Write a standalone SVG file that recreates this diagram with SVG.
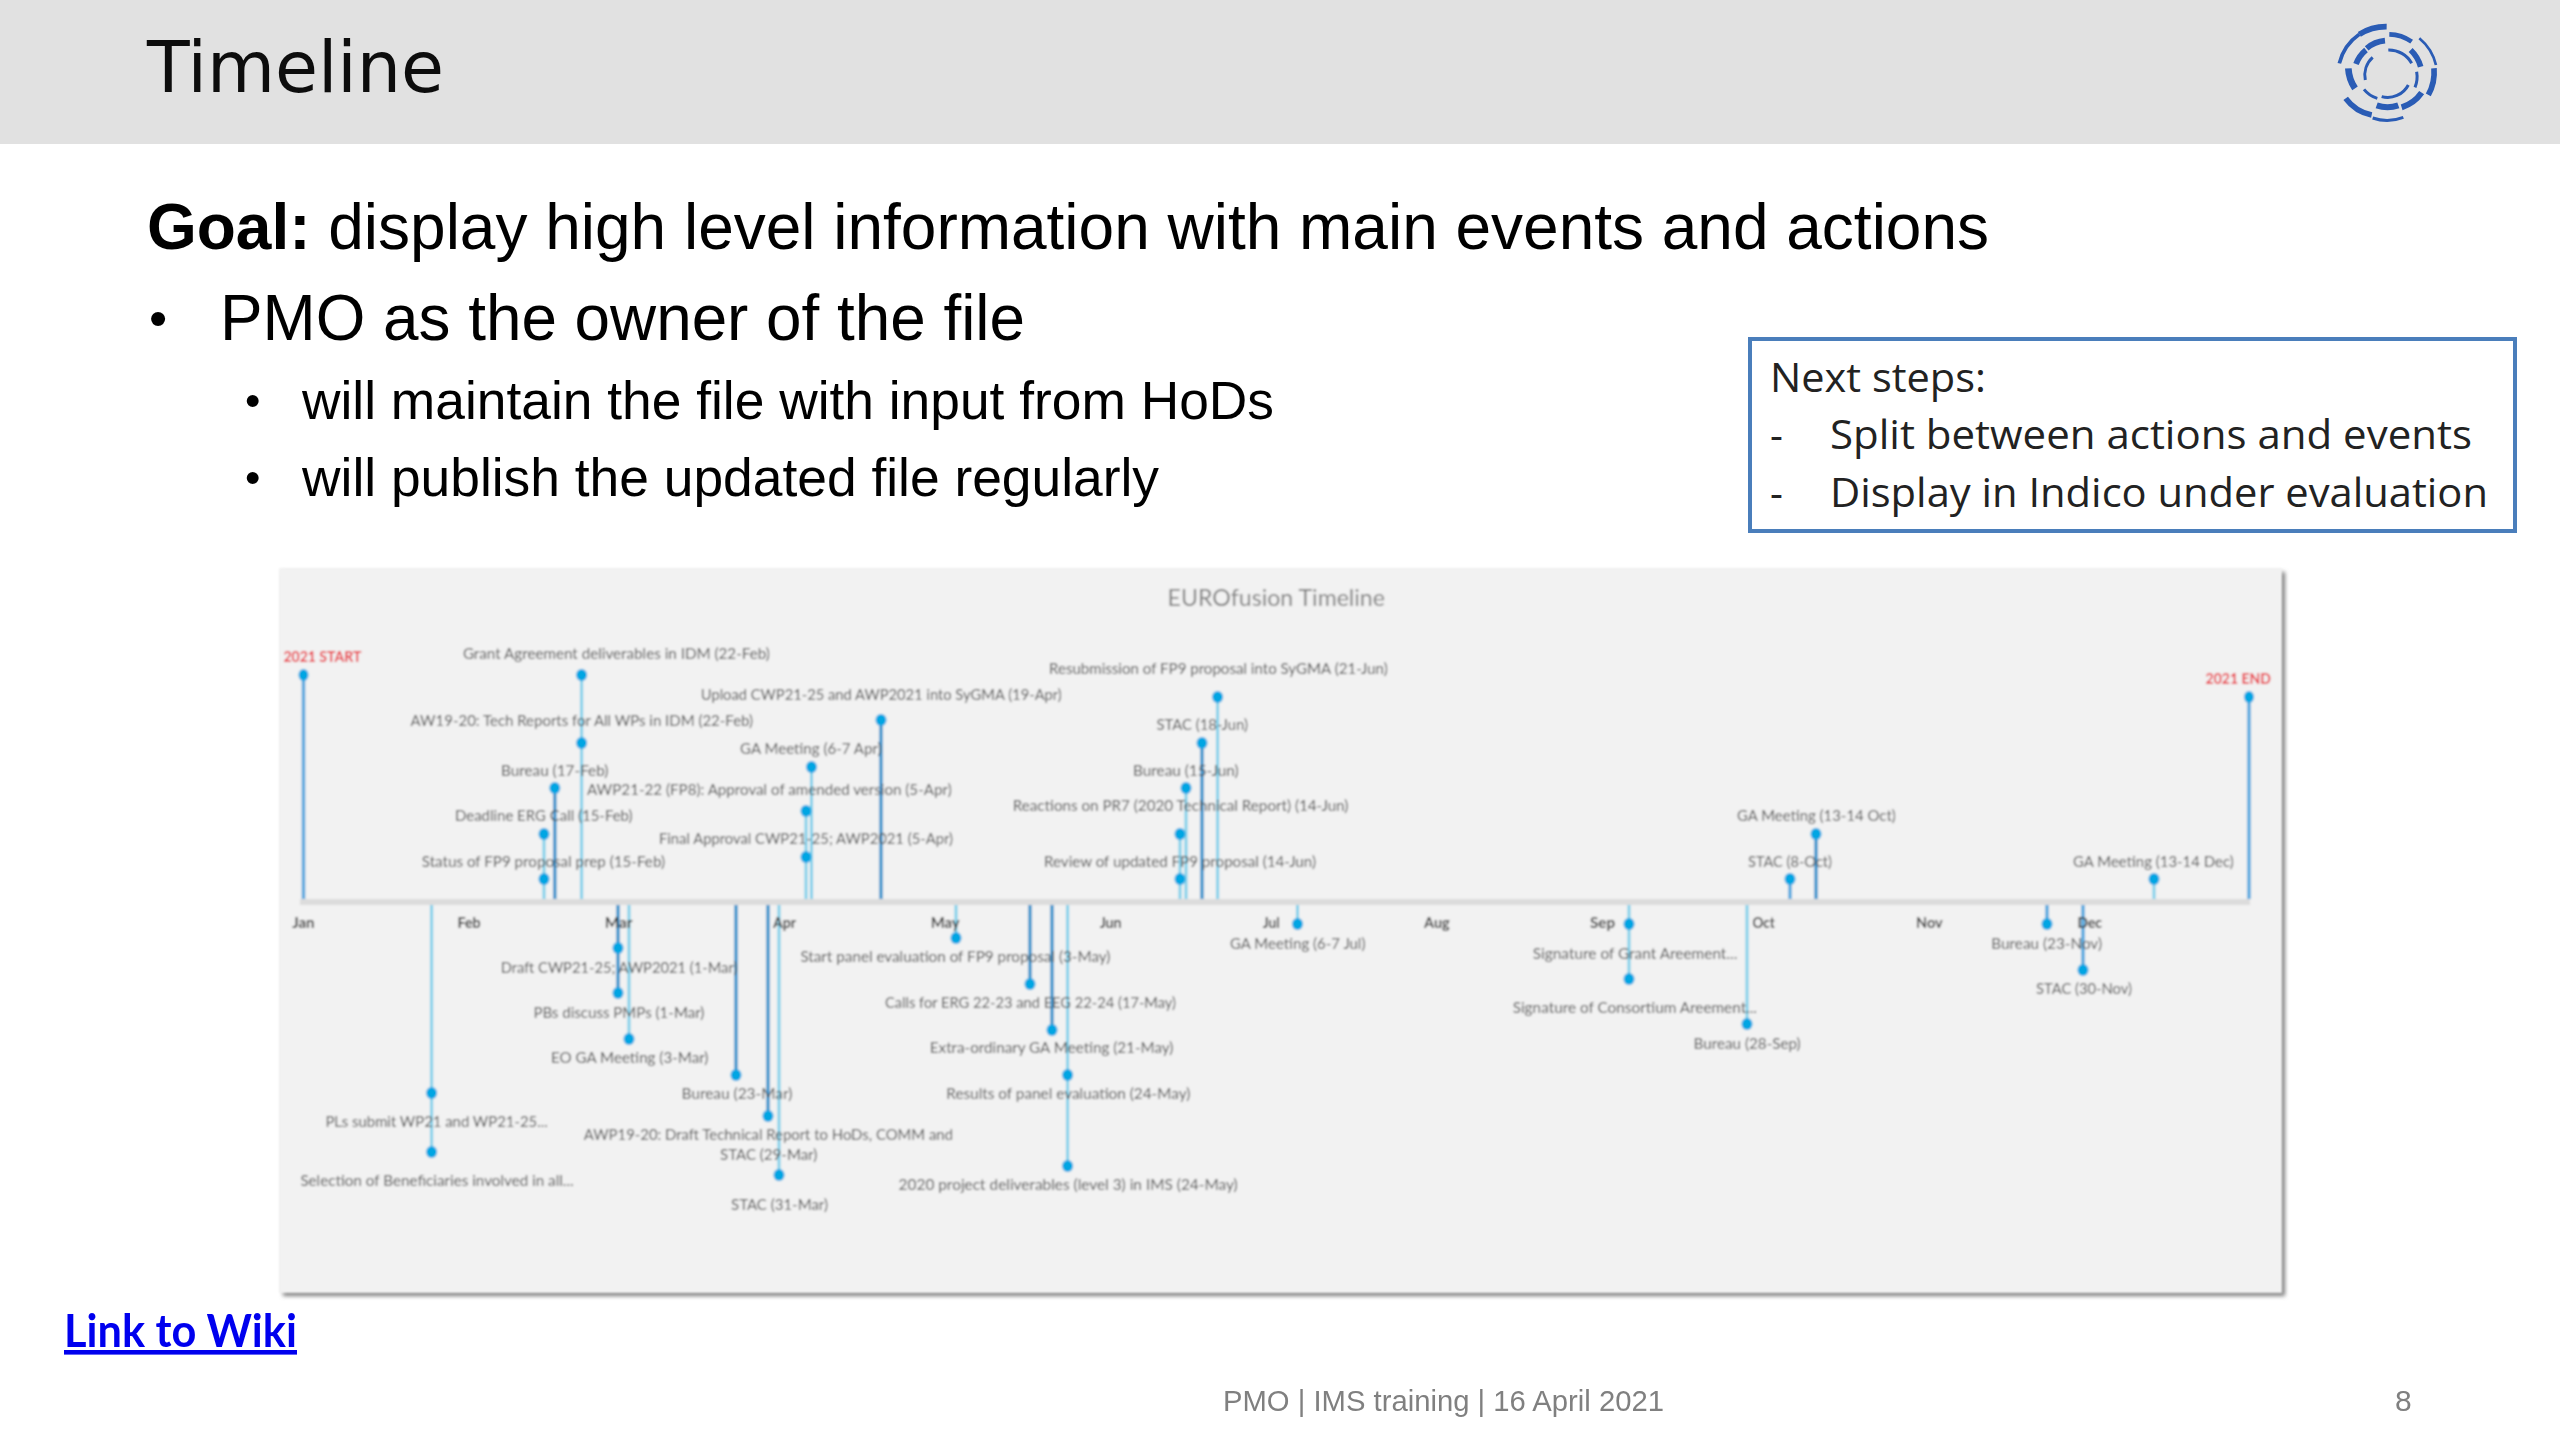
<svg xmlns="http://www.w3.org/2000/svg" width="2560" height="1440" viewBox="0 0 2560 1440">
<style>
.h{font-family:"DejaVu Sans",sans-serif;font-size:72px;fill:#111}
.b{font-family:"Liberation Sans",Arial,sans-serif;fill:#000}
.f{font-family:"Liberation Sans",Arial,sans-serif;font-size:30px;fill:#808080}
.n{font-family:"Open Sans",sans-serif;font-size:40px;fill:#222}
.l{font-family:"Lato","Open Sans",sans-serif;font-size:14.5px;fill:#505050}
.m{font-family:"Lato","Open Sans",sans-serif;font-size:16px;font-weight:700;fill:#3a3a3a}
.r{font-family:"Lato","Open Sans",sans-serif;font-size:14.5px;font-weight:700;fill:#e8323c}
.d{fill:#00a5e3}
.lt{stroke:#80d0ea;stroke-width:3;fill:none}
.md{stroke:#55a8de;stroke-width:3.5;fill:none}
.dk{stroke:#3a94cc;stroke-width:3.5;fill:none}
.o{fill:none;stroke:#2a5bb5;stroke-linecap:butt}
</style>
<defs>
<filter id="soft" filterUnits="userSpaceOnUse" x="260" y="550" width="2050" height="770"><feGaussianBlur stdDeviation="1"/></filter>
<filter id="sh" filterUnits="userSpaceOnUse" x="260" y="550" width="2050" height="770"><feGaussianBlur stdDeviation="2"/></filter>
<filter id="lg" filterUnits="userSpaceOnUse" x="2300" y="0" width="170" height="140"><feGaussianBlur stdDeviation="0.7"/></filter>
<filter id="tx" filterUnits="userSpaceOnUse" x="0" y="0" width="2560" height="1440"><feGaussianBlur stdDeviation="0.5"/></filter>
</defs>
<rect width="2560" height="1440" fill="#fff"/>
<rect id="header" width="2560" height="144" fill="#e1e1e1"/>
<g filter="url(#tx)">
<text class="h" x="147" y="92" textLength="297" lengthAdjust="spacingAndGlyphs">Timeline</text>
<text class="b" x="147" y="249" font-size="64" textLength="1842" lengthAdjust="spacingAndGlyphs"><tspan font-weight="700">Goal:</tspan> display high level information with main events and actions</text>
<text class="b" x="149" y="336" font-size="52">•</text>
<text class="b" x="220" y="340" font-size="64" textLength="805" lengthAdjust="spacingAndGlyphs">PMO as the owner of the file</text>
<text class="b" x="245" y="416" font-size="44">•</text>
<text class="b" x="302" y="419" font-size="54" textLength="972" lengthAdjust="spacingAndGlyphs">will maintain the file with input from HoDs</text>
<text class="b" x="245" y="493" font-size="44">•</text>
<text class="b" x="302" y="496" font-size="54" textLength="857" lengthAdjust="spacingAndGlyphs">will publish the updated file regularly</text>
<text x="64" y="1347" font-family="Lato,'Open Sans',sans-serif" font-size="46" font-weight="700" fill="#0000ee" text-decoration="underline" textLength="233" lengthAdjust="spacingAndGlyphs">Link to Wiki</text>
<text class="f" x="1223" y="1411" textLength="441" lengthAdjust="spacingAndGlyphs">PMO | IMS training | 16 April 2021</text>
<text class="f" x="2395" y="1411">8</text>
</g>
<g filter="url(#lg)"><g id="logo" transform="translate(2300 0) scale(.3333)">
<path class="o" stroke-width="11" d="M118 190A150 150 0 0 1 178 103"/>
<path class="o" stroke-width="17" d="M178 103A150 150 0 0 1 260 80"/>
<path class="o" stroke-width="14" d="M268 103A122 122 0 0 1 335 125"/>
<path class="o" stroke-width="8" d="M358 115A150 150 0 0 1 408 195"/>
<path class="o" stroke-width="17" d="M402 205A140 140 0 0 1 385 285"/>
<path class="o" stroke-width="17" d="M137 295A130 130 0 0 0 215 345"/>
<path class="o" stroke-width="9" d="M218 354A135 135 0 0 0 310 352"/>
<path class="o" stroke-width="17" d="M200 145A100 100 0 0 1 255 122"/>
<path class="o" stroke-width="17" d="M168 192A100 100 0 0 1 198 150"/>
<path class="o" stroke-width="17" d="M332 150A110 110 0 0 1 362 200"/>
<path class="o" stroke-width="20" d="M145 205A120 120 0 0 0 165 265"/>
<path class="o" stroke-width="18" d="M230 316A95 95 0 0 0 295 316"/>
<path class="o" stroke-width="18" d="M305 322A115 115 0 0 0 365 278"/>
<path class="o" stroke-width="9" d="M218 172A72 72 0 0 0 196 240"/>
<path class="o" stroke-width="9" d="M265 150A78 78 0 0 1 335 190"/>
<path class="o" stroke-width="9" d="M350 215A85 85 0 0 1 345 262"/>
<path class="o" stroke-width="9" d="M192 268A80 80 0 0 0 232 295"/>
<path class="o" stroke-width="9" d="M245 290A70 70 0 0 0 325 255"/>
</g></g>
<g id="next-steps">
<rect x="1750" y="339" width="765" height="192" fill="#fff" stroke="#4a7ebb" stroke-width="4"/>
<text class="n" x="1770" y="392" textLength="216" lengthAdjust="spacingAndGlyphs">Next steps:</text>
<text class="n" x="1770" y="449">-</text>
<text class="n" x="1830" y="449" textLength="642" lengthAdjust="spacingAndGlyphs">Split between actions and events</text>
<text class="n" x="1770" y="507">-</text>
<text class="n" x="1830" y="507" textLength="658" lengthAdjust="spacingAndGlyphs">Display in Indico under evaluation</text>
</g>
<rect x="283" y="572" width="2002" height="724" fill="#7f7f7f" filter="url(#sh)"/>
<g id="chart" filter="url(#soft)">
<rect x="279" y="568" width="2003" height="725" fill="#f2f2f2"/>
<text class="l" x="1167.6" y="606" style="font-size:24px;fill:#7f7f7f" textLength="217.4" lengthAdjust="spacingAndGlyphs">EUROfusion Timeline</text>
<g id="connectors">
<rect x="300" y="899" width="1950" height="6" fill="#dcdcdc"/>
<line class="md" x1="303.5" y1="675" x2="303.5" y2="899"/>
<line class="lt" x1="581.6" y1="675" x2="581.6" y2="899"/>
<line class="dk" x1="554.8" y1="788" x2="554.8" y2="899"/>
<line class="lt" x1="544" y1="834" x2="544" y2="899"/>
<line class="dk" x1="881" y1="720" x2="881" y2="899"/>
<line class="lt" x1="811.5" y1="767" x2="811.5" y2="899"/>
<line class="lt" x1="806" y1="811" x2="806" y2="899"/>
<line class="lt" x1="1217.6" y1="697" x2="1217.6" y2="899"/>
<line class="dk" x1="1202" y1="743" x2="1202" y2="899"/>
<line class="lt" x1="1186" y1="788" x2="1186" y2="899"/>
<line class="lt" x1="1180" y1="834" x2="1180" y2="899"/>
<line class="md" x1="2249" y1="697" x2="2249" y2="899"/>
<line class="dk" x1="1816" y1="834" x2="1816" y2="899"/>
<line class="md" x1="1790" y1="879" x2="1790" y2="899"/>
<line class="lt" x1="2154" y1="879" x2="2154" y2="899"/>
<line class="lt" x1="431.6" y1="905" x2="431.6" y2="1152"/>
<line class="dk" x1="618" y1="905" x2="618" y2="993"/>
<line class="lt" x1="629" y1="905" x2="629" y2="1039"/>
<line class="dk" x1="736" y1="905" x2="736" y2="1075"/>
<line class="dk" x1="768" y1="905" x2="768" y2="1116"/>
<line class="lt" x1="779" y1="905" x2="779" y2="1175"/>
<line class="lt" x1="956" y1="905" x2="956" y2="938"/>
<line class="dk" x1="1030" y1="905" x2="1030" y2="984"/>
<line class="dk" x1="1052" y1="905" x2="1052" y2="1030"/>
<line class="lt" x1="1067.6" y1="905" x2="1067.6" y2="1166"/>
<line class="lt" x1="1297.5" y1="905" x2="1297.5" y2="924"/>
<line class="lt" x1="1629" y1="905" x2="1629" y2="979"/>
<line class="lt" x1="1747" y1="905" x2="1747" y2="1024"/>
<line class="md" x1="2047" y1="905" x2="2047" y2="924"/>
<line class="md" x1="2083" y1="905" x2="2083" y2="970"/>
</g>
<g id="months">
<text class="m" x="292.3" y="928" textLength="22.3" lengthAdjust="spacingAndGlyphs">Jan</text>
<text class="m" x="457.5" y="928" textLength="23.2" lengthAdjust="spacingAndGlyphs">Feb</text>
<text class="m" x="604.8" y="928" textLength="27.7" lengthAdjust="spacingAndGlyphs">Mar</text>
<text class="m" x="773" y="928" textLength="23" lengthAdjust="spacingAndGlyphs">Apr</text>
<text class="m" x="930.7" y="928" textLength="29" lengthAdjust="spacingAndGlyphs">May</text>
<text class="m" x="1099.7" y="928" textLength="21.9" lengthAdjust="spacingAndGlyphs">Jun</text>
<text class="m" x="1262.7" y="928" textLength="16.9" lengthAdjust="spacingAndGlyphs">Jul</text>
<text class="m" x="1424" y="928" textLength="25.7" lengthAdjust="spacingAndGlyphs">Aug</text>
<text class="m" x="1590" y="928" textLength="25" lengthAdjust="spacingAndGlyphs">Sep</text>
<text class="m" x="1752.5" y="928" textLength="22.3" lengthAdjust="spacingAndGlyphs">Oct</text>
<text class="m" x="1916" y="928" textLength="26.7" lengthAdjust="spacingAndGlyphs">Nov</text>
<text class="m" x="2077.5" y="928" textLength="24.5" lengthAdjust="spacingAndGlyphs">Dec</text>
</g>
<g id="n1"><ellipse class="d" cx="303.5" cy="675" rx="5" ry="6"/><text class="r" x="283.4" y="662" textLength="78" lengthAdjust="spacingAndGlyphs">2021 START</text></g>
<g id="n2"><ellipse class="d" cx="581.6" cy="675" rx="5.5" ry="6"/><text class="l" x="462.9" y="659" textLength="307" lengthAdjust="spacingAndGlyphs">Grant Agreement deliverables in IDM (22-Feb)</text></g>
<g id="n3"><ellipse class="d" cx="581.6" cy="743" rx="5.5" ry="6"/><text class="l" x="410.6" y="726" textLength="342.4" lengthAdjust="spacingAndGlyphs">AW19-20: Tech Reports for All WPs in IDM (22-Feb)</text></g>
<g id="n4"><ellipse class="d" cx="554.8" cy="788" rx="5.5" ry="6"/><text class="l" x="501" y="776" textLength="107.4" lengthAdjust="spacingAndGlyphs">Bureau (17-Feb)</text></g>
<g id="n5"><ellipse class="d" cx="544" cy="834" rx="5.5" ry="6"/><text class="l" x="455" y="821" textLength="177.5" lengthAdjust="spacingAndGlyphs">Deadline ERG Call (15-Feb)</text></g>
<g id="n6"><ellipse class="d" cx="544" cy="879" rx="5.5" ry="6"/><text class="l" x="421.8" y="867" textLength="243.2" lengthAdjust="spacingAndGlyphs">Status of FP9 proposal prep (15-Feb)</text></g>
<g id="n7"><ellipse class="d" cx="881" cy="720" rx="5.5" ry="6"/><text class="l" x="700.8" y="700" textLength="361" lengthAdjust="spacingAndGlyphs">Upload CWP21-25 and AWP2021 into SyGMA (19-Apr)</text></g>
<g id="n8"><ellipse class="d" cx="811.5" cy="767" rx="5.5" ry="6"/><text class="l" x="740" y="754" textLength="141.6" lengthAdjust="spacingAndGlyphs">GA Meeting (6-7 Apr)</text></g>
<g id="n9"><ellipse class="d" cx="806" cy="811" rx="5.5" ry="6"/><text class="l" x="587" y="795" textLength="364.7" lengthAdjust="spacingAndGlyphs">AWP21-22 (FP8): Approval of amended version (5-Apr)</text></g>
<g id="n10"><ellipse class="d" cx="806" cy="857" rx="5.5" ry="6"/><text class="l" x="659" y="844" textLength="294" lengthAdjust="spacingAndGlyphs">Final Approval CWP21-25; AWP2021 (5-Apr)</text></g>
<g id="n11"><ellipse class="d" cx="1217.6" cy="697" rx="5.5" ry="6"/><text class="l" x="1049" y="674" textLength="338.7" lengthAdjust="spacingAndGlyphs">Resubmission of FP9 proposal into SyGMA (21-Jun)</text></g>
<g id="n12"><ellipse class="d" cx="1202" cy="743" rx="5.5" ry="6"/><text class="l" x="1156.4" y="730" textLength="91.6" lengthAdjust="spacingAndGlyphs">STAC (18-Jun)</text></g>
<g id="n13"><ellipse class="d" cx="1186" cy="788" rx="5.5" ry="6"/><text class="l" x="1133" y="776" textLength="105.6" lengthAdjust="spacingAndGlyphs">Bureau (15-Jun)</text></g>
<g id="n14"><ellipse class="d" cx="1180" cy="834" rx="5.5" ry="6"/><text class="l" x="1012.7" y="811" textLength="335.7" lengthAdjust="spacingAndGlyphs">Reactions on PR7 (2020 Technical Report) (14-Jun)</text></g>
<g id="n15"><ellipse class="d" cx="1180" cy="879" rx="5.5" ry="6"/><text class="l" x="1044" y="867" textLength="272" lengthAdjust="spacingAndGlyphs">Review of updated FP9 proposal (14-Jun)</text></g>
<g id="n16"><ellipse class="d" cx="2249" cy="697" rx="5" ry="6"/><text class="r" x="2205.6" y="684" textLength="65.2" lengthAdjust="spacingAndGlyphs">2021 END</text></g>
<g id="n17"><ellipse class="d" cx="1816" cy="834" rx="5.5" ry="6"/><text class="l" x="1737" y="821" textLength="158.8" lengthAdjust="spacingAndGlyphs">GA Meeting (13-14 Oct)</text></g>
<g id="n18"><ellipse class="d" cx="1790" cy="879" rx="5.5" ry="6"/><text class="l" x="1748" y="867" textLength="84" lengthAdjust="spacingAndGlyphs">STAC (8-Oct)</text></g>
<g id="n19"><ellipse class="d" cx="2154" cy="879" rx="5.5" ry="6"/><text class="l" x="2073" y="867" textLength="160.8" lengthAdjust="spacingAndGlyphs">GA Meeting (13-14 Dec)</text></g>
<g id="n20"><ellipse class="d" cx="431.6" cy="1093" rx="5.5" ry="6"/><text class="l" x="325.4" y="1127" textLength="222.3" lengthAdjust="spacingAndGlyphs">PLs  submit WP21 and WP21-25...</text></g>
<g id="n21"><ellipse class="d" cx="431.6" cy="1152" rx="5.5" ry="6"/><text class="l" x="300.4" y="1186" textLength="273.2" lengthAdjust="spacingAndGlyphs">Selection of Beneficiaries involved in all...</text></g>
<g id="n22"><ellipse class="d" cx="618" cy="948" rx="5.5" ry="6"/><text class="l" x="500.8" y="973" textLength="236.6" lengthAdjust="spacingAndGlyphs">Draft CWP21-25; AWP2021 (1-Mar)</text></g>
<g id="n23"><ellipse class="d" cx="618" cy="993" rx="5.5" ry="6"/><text class="l" x="533.4" y="1018" textLength="171" lengthAdjust="spacingAndGlyphs">PBs discuss PMPs (1-Mar)</text></g>
<g id="n24"><ellipse class="d" cx="629" cy="1039" rx="5.5" ry="6"/><text class="l" x="551" y="1063" textLength="157.4" lengthAdjust="spacingAndGlyphs">EO GA Meeting (3-Mar)</text></g>
<g id="n25"><ellipse class="d" cx="736" cy="1075" rx="5.5" ry="6"/><text class="l" x="681.6" y="1099" textLength="110.7" lengthAdjust="spacingAndGlyphs">Bureau (23-Mar)</text></g>
<g id="n26"><ellipse class="d" cx="768" cy="1116" rx="5.5" ry="6"/><text class="l" x="583.8" y="1140" textLength="369.2" lengthAdjust="spacingAndGlyphs">AWP19-20: Draft Technical Report to HoDs, COMM and</text><text class="l" x="720" y="1160" textLength="97.3" lengthAdjust="spacingAndGlyphs">STAC (29-Mar)</text></g>
<g id="n27"><ellipse class="d" cx="779" cy="1175" rx="5.5" ry="6"/><text class="l" x="731" y="1210" textLength="97" lengthAdjust="spacingAndGlyphs">STAC (31-Mar)</text></g>
<g id="n28"><ellipse class="d" cx="956" cy="938" rx="5.5" ry="6"/><text class="l" x="800.4" y="962" textLength="310" lengthAdjust="spacingAndGlyphs">Start panel evaluation of FP9 proposal (3-May)</text></g>
<g id="n29"><ellipse class="d" cx="1030" cy="984" rx="5.5" ry="6"/><text class="l" x="885" y="1008" textLength="291" lengthAdjust="spacingAndGlyphs">Calls for ERG 22-23 and EEG 22-24 (17-May)</text></g>
<g id="n30"><ellipse class="d" cx="1052" cy="1030" rx="5.5" ry="6"/><text class="l" x="929.8" y="1053" textLength="243.6" lengthAdjust="spacingAndGlyphs">Extra-ordinary GA Meeting (21-May)</text></g>
<g id="n31"><ellipse class="d" cx="1067.6" cy="1075" rx="5.5" ry="6"/><text class="l" x="946.3" y="1099" textLength="244.1" lengthAdjust="spacingAndGlyphs">Results of panel evaluation (24-May)</text></g>
<g id="n32"><ellipse class="d" cx="1067.6" cy="1166" rx="5.5" ry="6"/><text class="l" x="898.6" y="1190" textLength="339.1" lengthAdjust="spacingAndGlyphs">2020 project deliverables (level 3) in IMS  (24-May)</text></g>
<g id="n33"><ellipse class="d" cx="1297.5" cy="924" rx="5.5" ry="6"/><text class="l" x="1230" y="949" textLength="135.4" lengthAdjust="spacingAndGlyphs">GA Meeting (6-7 Jul)</text></g>
<g id="n34"><ellipse class="d" cx="1629" cy="924" rx="5.5" ry="6"/><text class="l" x="1532.8" y="959" textLength="204.5" lengthAdjust="spacingAndGlyphs">Signature of Grant Areement...</text></g>
<g id="n35"><ellipse class="d" cx="1629" cy="979" rx="5.5" ry="6"/><text class="l" x="1512.7" y="1013" textLength="244.3" lengthAdjust="spacingAndGlyphs">Signature of Consortium Areement...</text></g>
<g id="n36"><ellipse class="d" cx="1747" cy="1024" rx="5.5" ry="6"/><text class="l" x="1693.6" y="1049" textLength="107.1" lengthAdjust="spacingAndGlyphs">Bureau (28-Sep)</text></g>
<g id="n37"><ellipse class="d" cx="2047" cy="924" rx="5.5" ry="6"/><text class="l" x="1991.3" y="949" textLength="110.7" lengthAdjust="spacingAndGlyphs">Bureau (23-Nov)</text></g>
<g id="n38"><ellipse class="d" cx="2083" cy="970" rx="5.5" ry="6"/><text class="l" x="2036" y="994" textLength="96" lengthAdjust="spacingAndGlyphs">STAC (30-Nov)</text></g>
</g>
</svg>
